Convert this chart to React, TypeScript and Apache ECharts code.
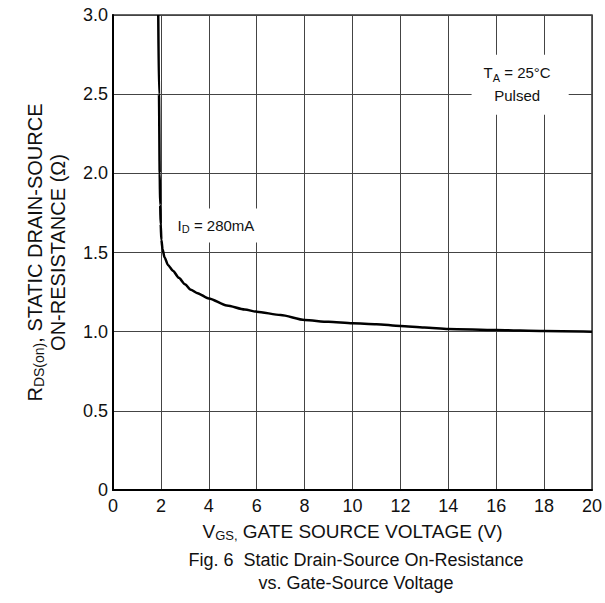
import React, { useEffect, useRef } from "react";
import * as echarts from "echarts";

const vgs = [1.89, 1.92, 1.95, 1.97, 1.99, 2.02, 2.07, 2.15, 2.3, 2.5, 2.75, 3.0, 3.25, 3.5, 4.0, 4.75, 5.5, 6, 7, 8, 9, 10, 11, 12, 13, 14, 16, 18, 20];
const rds = [3.0, 2.5, 2.0, 1.8, 1.68, 1.58, 1.52, 1.47, 1.42, 1.385, 1.34, 1.3, 1.265, 1.245, 1.21, 1.165, 1.14, 1.126, 1.105, 1.074, 1.062, 1.053, 1.047, 1.036, 1.026, 1.017, 1.01, 1.004, 1.0];

const xTicks = { min: 0, max: 20, interval: 2 };
const yTicks = { min: 0, max: 3, interval: 0.5 };

const FONT = "Liberation Sans, Arial, sans-serif";

export default function App() {
  const ref = useRef<HTMLDivElement>(null);
  useEffect(() => {
    if (!ref.current) return;
    const chart = echarts.init(ref.current, null, { renderer: "svg" });
    const data = vgs.map((v, i) => [v, rds[i]]);
    const sub = (fs: number) => ({ fontSize: fs, lineHeight: fs, verticalAlign: "bottom", fontFamily: FONT, color: "#111" });
    chart.setOption({
      animation: false,
      backgroundColor: "#fff",
      textStyle: { fontFamily: FONT, color: "#111" },
      grid: {
        left: 113, top: 15, right: 12, bottom: 113,
        show: true, borderColor: "#333", borderWidth: 1.5, backgroundColor: "transparent",
      },
      xAxis: {
        type: "value", min: xTicks.min, max: xTicks.max, interval: xTicks.interval,
        axisLine: { show: true, lineStyle: { color: "#000", width: 2 } },
        axisTick: { show: false },
        splitLine: { show: true, lineStyle: { color: "#444", width: 1 } },
        axisLabel: { color: "#111", fontSize: 18, fontFamily: FONT, margin: 7 },
        name: "V{sub|GS,} GATE SOURCE VOLTAGE (V)",
        nameLocation: "middle",
        nameGap: 30,
        nameTextStyle: {
          fontSize: 19, fontFamily: FONT, color: "#111", lineHeight: 22,
          rich: { sub: sub(13) },
        },
      },
      yAxis: {
        type: "value", min: yTicks.min, max: yTicks.max, interval: yTicks.interval,
        axisLine: { show: true, lineStyle: { color: "#000", width: 2 } },
        axisTick: { show: false },
        splitLine: { show: true, lineStyle: { color: "#444", width: 1 } },
        axisLabel: {
          color: "#111", fontSize: 18, fontFamily: FONT, margin: 5,
          formatter: (v: number) => (v === 0 ? "0" : v.toFixed(1)),
        },
        name: "R{sub|DS(on)}, STATIC DRAIN-SOURCE\nON-RESISTANCE (Ω)",
        nameLocation: "middle",
        nameRotate: 90,
        nameGap: 44,
        nameTextStyle: {
          fontSize: 20, fontFamily: FONT, color: "#111", lineHeight: 23, align: "center",
          rich: { sub: sub(14) },
        },
      },
      series: [
        {
          type: "line",
          data,
          showSymbol: false,
          symbol: "none",
          smooth: 0.25,
          smoothMonotone: "x",
          lineStyle: { color: "#000", width: 2.5 },
          z: 3,
          markPoint: {
            symbol: "rect",
            symbolSize: 0,
            silent: true,
            data: [
              {
                coord: [4.3, 1.67],
                label: {
                  show: true,
                  formatter: "I{sub|D} = 280mA",
                  backgroundColor: "#fff",
                  padding: [8, 6, 8, 6],
                  fontSize: 15, fontFamily: FONT, color: "#111", lineHeight: 18,
                  rich: { sub: sub(11) },
                },
              },
              {
                coord: [17.0, 2.56],
                label: {
                  show: true,
                  formatter: "T{sub|A} = 25°C\nPulsed",
                  backgroundColor: "#fff",
                  align: "center",
                  padding: [6, 18, 8, 12],
                  fontSize: 15, fontFamily: FONT, color: "#111", lineHeight: 23,
                  rich: { sub: sub(11) },
                },
              },
            ],
          },
        },
      ],
      graphic: [
        {
          type: "text", x: 356, y: 560,
          style: {
            text: "Fig. 6  Static Drain-Source On-Resistance",
            font: `18px ${FONT}`, fill: "#111",
            align: "center", verticalAlign: "middle", textAlign: "center", textVerticalAlign: "middle",
          },
        },
        {
          type: "text", x: 356, y: 583,
          style: {
            text: "vs. Gate-Source Voltage",
            font: `18px ${FONT}`, fill: "#111",
            align: "center", verticalAlign: "middle", textAlign: "center", textVerticalAlign: "middle",
          },
        },
      ],
    });
    return () => chart.dispose();
  }, []);
  return (
    <div
      ref={ref}
      style={{ position: "fixed", left: 0, top: 0, width: 605, height: 603, background: "#fff" }}
    />
  );
}
